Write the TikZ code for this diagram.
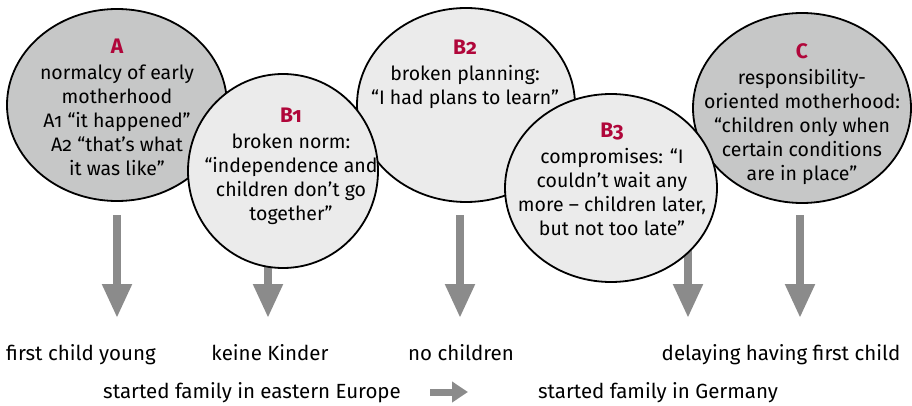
\documentclass[tikz,border=0pt]{standalone}
\usepackage{fontspec}
\setmainfont[Numbers=OldStyle]{Fira Sans}
\usetikzlibrary{arrows.meta,shapes.geometric}
\definecolor{darkfill}{HTML}{C6C7C7}
\definecolor{lightfill}{HTML}{EBEBEB}
\definecolor{arrowgray}{HTML}{8B8B8B}
\definecolor{labelred}{HTML}{B0063A}
\tikzset{
  bubble/.style={ellipse, draw=black, line width=1.8pt, inner sep=0pt},
  darkbubble/.style={bubble, fill=darkfill},
  lightbubble/.style={bubble, fill=lightfill},
  bubbletext/.style={align=center, inner sep=0pt, anchor=north,
    font=\fontsize{19.5}{24}\selectfont},
  outcome/.style={inner sep=0pt, anchor=base, font=\fontsize{20.5}{24}\selectfont},
  bigarrow/.style={draw=arrowgray, line width=8pt,
    -{Triangle[width=28pt,length=34pt]}},
  smallarrow/.style={draw=arrowgray, line width=7pt,
    -{Triangle[width=20pt,length=16pt]}}
}
\newcommand{\typelabel}[1]{{\fontsize{21}{24}\selectfont\bfseries\color{labelred}#1}\\[2pt]}
\begin{document}
\begin{tikzpicture}[x=1pt, y=-1pt]
\useasboundingbox (0,0) rectangle (912,406);

% arrows from each type down to its outcome
\coordinate (s1) at (117,215); \coordinate (t1) at (117,318);
\coordinate (s2) at (268,215); \coordinate (t2) at (268,318);
\coordinate (s3) at (460,215); \coordinate (t3) at (460,318);
\coordinate (s4) at (688,215); \coordinate (t4) at (688,318);
\coordinate (s5) at (800,215); \coordinate (t5) at (800,318);
\draw[bigarrow] (s1) -- (t1);
\draw[bigarrow] (s2) -- (t2);
\draw[bigarrow] (s3) -- (t3);
\draw[bigarrow] (s4) -- (t4);
\draw[bigarrow] (s5) -- (t5);

% the five types, back to front
\node[darkbubble, minimum width=220pt, minimum height=192pt] (eA) at (117,105) {};
\node[lightbubble, minimum width=218pt, minimum height=194pt] (eB2) at (466,105) {};
\node[darkbubble, minimum width=218pt, minimum height=190pt] (eC) at (802,108) {};
\node[lightbubble, minimum width=190pt, minimum height=194pt] (eB1) at (283,171) {};
\node[lightbubble, minimum width=212pt, minimum height=188pt] (eB3) at (611,188) {};

\node[bubbletext] (tA) at (117,39) {\typelabel{A}normalcy of early\\motherhood\\A1 “it happened”\\A2 “that’s what\\it was like”};
\node[bubbletext] (tB1) at (291,108) {\typelabel{B1}broken norm:\\“independence and\\children don’t go\\together”};
\node[bubbletext] (tB2) at (465,40) {\typelabel{B2}broken planning:\\“I had plans to learn”};
\node[bubbletext] (tB3) at (612,123) {\typelabel{B3}compromises: “I\\couldn’t wait any\\more – children later,\\but not too late”};
\node[bubbletext] (tC) at (802,43) {\typelabel{C}responsibility-\\oriented motherhood:\\“children only when\\certain conditions\\are in place”};

% outcomes
\node[outcome] (o1) at (81,360) {first child young};
\node[outcome] (o2) at (270,360) {keine Kinder};
\node[outcome] (o3) at (461,360) {no children};
\node[outcome] (o4) at (781,360) {delaying having first child};

% migration timing
\node[outcome] (m1) at (252,398) {started family in eastern Europe};
\node[outcome] (m2) at (658,398) {started family in Germany};
\coordinate (ms) at (430,392); \coordinate (me) at (468,392);
\draw[smallarrow] (ms) -- (me);
\end{tikzpicture}
\end{document}
